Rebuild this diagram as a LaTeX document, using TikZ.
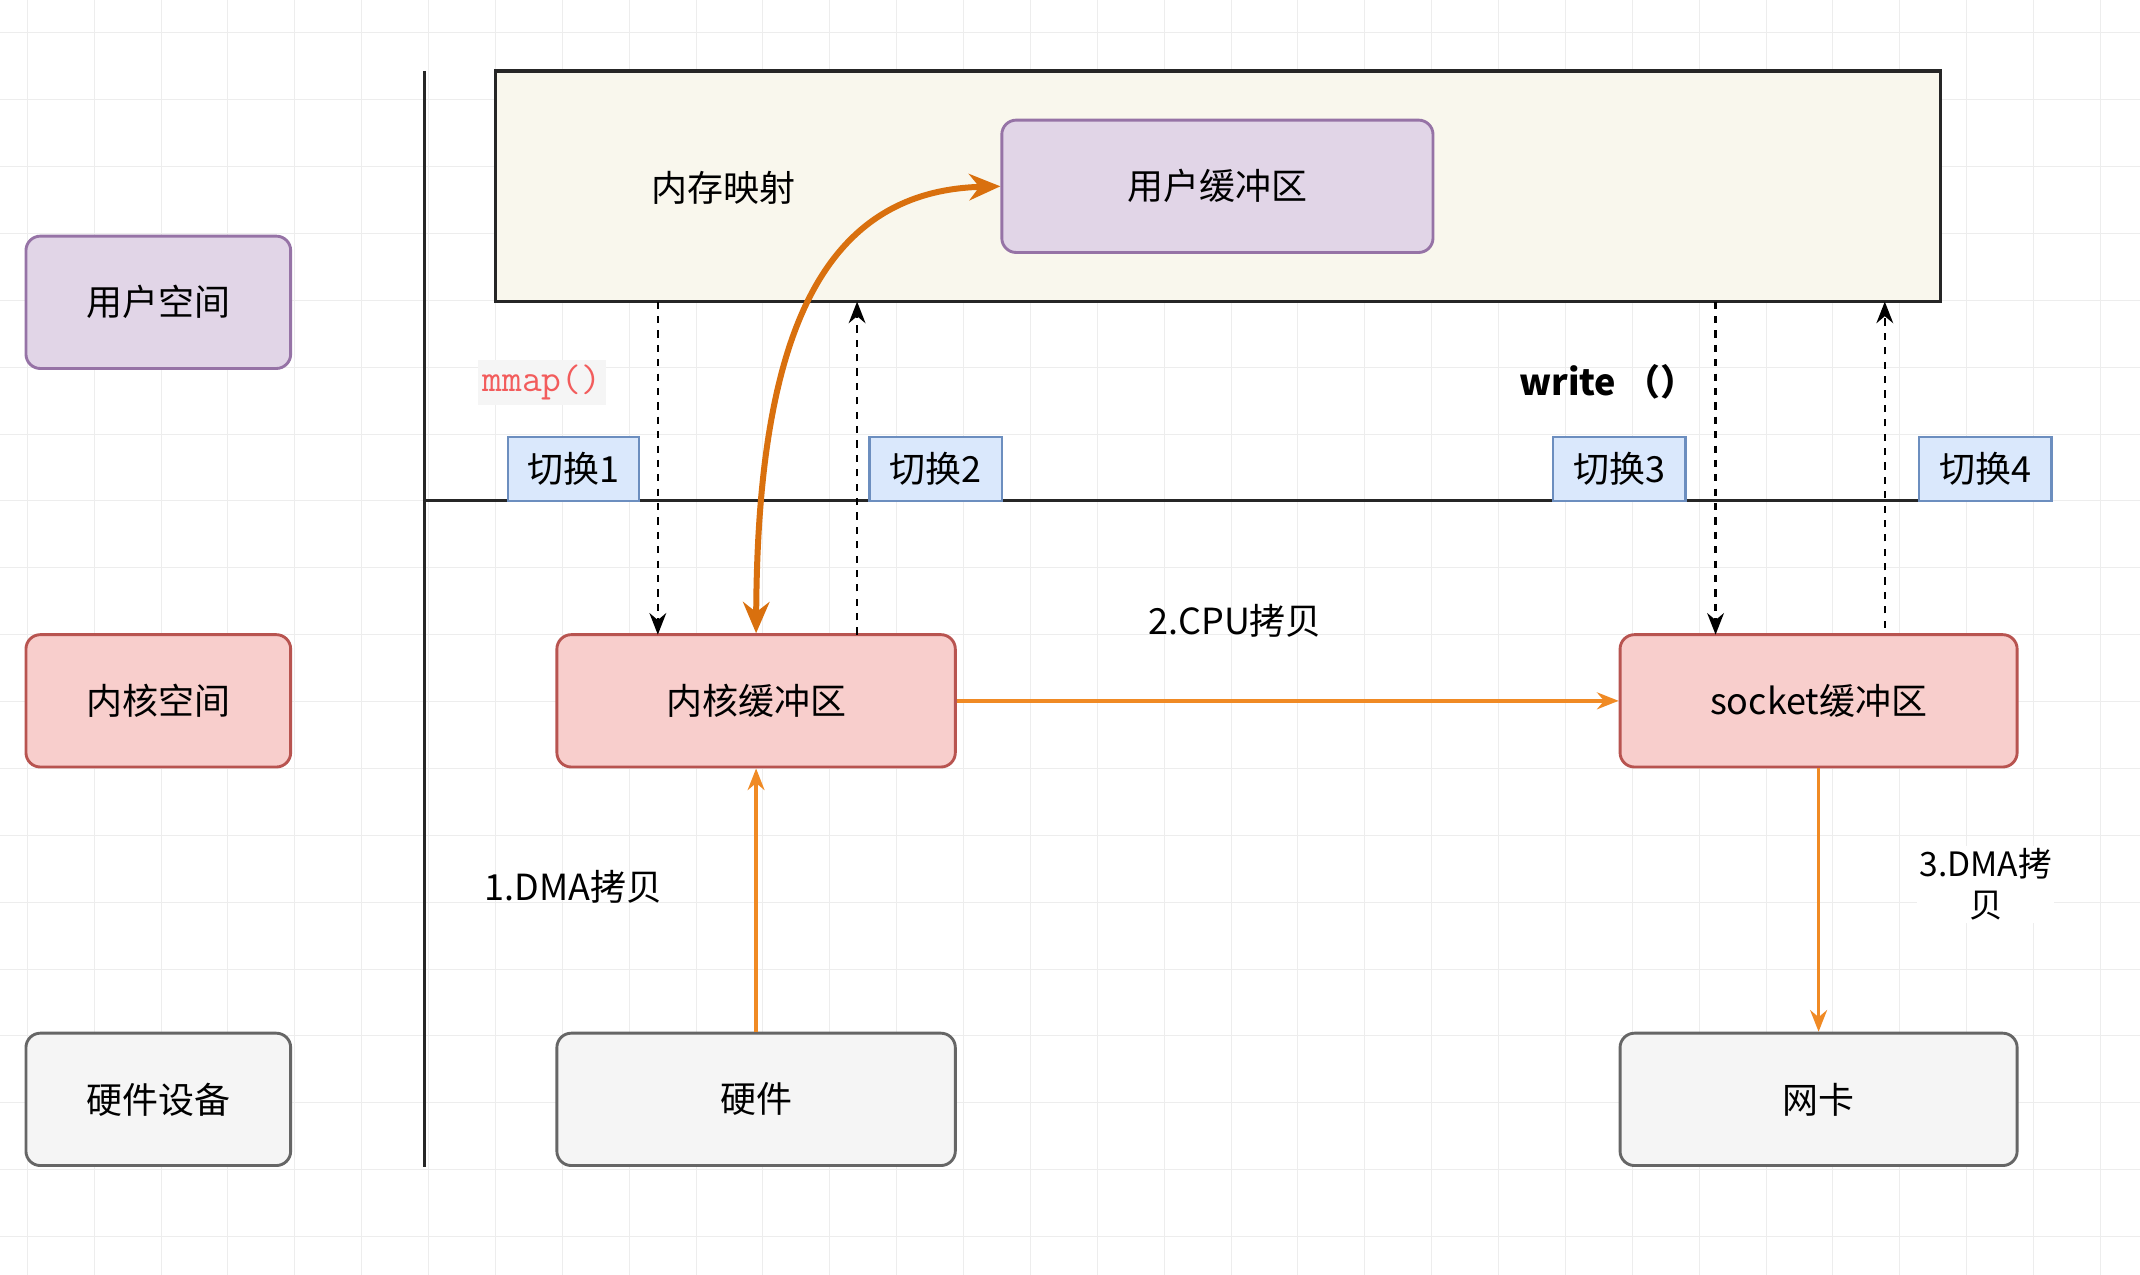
\documentclass[tikz,border=0pt]{standalone}
\usepackage{fontspec}
\setmainfont{Noto Sans CJK SC}
\usetikzlibrary{arrows.meta}
\definecolor{pf}{HTML}{E1D5E7}\definecolor{pd}{HTML}{9673A6}
\definecolor{rf}{HTML}{F8CECC}\definecolor{rd}{HTML}{B85450}
\definecolor{gf}{HTML}{F5F5F5}\definecolor{gd}{HTML}{666666}
\definecolor{bf}{HTML}{DAE8FC}\definecolor{bd}{HTML}{6C8EBF}
\definecolor{yf}{HTML}{F9F7ED}\definecolor{org}{HTML}{F08A24}\definecolor{dorg}{HTML}{D9700E}
\definecolor{mm}{HTML}{F25C5C}
\begin{document}
\begin{tikzpicture}[x=0.02cm,y=-0.02cm,
  box/.style={draw,rounded corners=6pt,line width=1.2pt,font=\fontsize{15}{18}\selectfont},
  sw/.style={draw=bd,fill=bf,line width=1pt,font=\fontsize{15}{18}\selectfont,inner sep=0pt},
  lbl/.style={font=\fontsize{15}{18}\selectfont},
  da/.style={dashed,line width=1pt,-{Stealth[length=9pt,width=7pt]}},
  oa/.style={org,line width=1.5pt,-{Stealth[length=9pt,width=7pt]}}]
\useasboundingbox (0,0) rectangle (1568,934);
\fill[white] (0,0) rectangle (1568,934);
\foreach \x in {20,69,...,1568} \draw[black!7] (\x,0) -- (\x,934);
\foreach \y in {24,73,...,934} \draw[black!7] (0,\y) -- (1568,\y);
% left labels
\node[box,fill=pf,draw=pd,minimum width=3.88cm,minimum height=1.94cm] (us) at (116,221.5) {用户空间};
\node[box,fill=rf,draw=rd,minimum width=3.88cm,minimum height=1.94cm] (ks) at (116,513.5) {内核空间};
\node[box,fill=gf,draw=gd,minimum width=3.88cm,minimum height=1.94cm] (hs) at (116,805.5) {硬件设备};
% axes
\coordinate (v1) at (311,52); \coordinate (v2) at (311,855);
\coordinate (h1) at (311,367); \coordinate (h2) at (1503,367);
\draw[line width=1.3pt,black!85] (v1) -- (v2);
\draw[line width=1.3pt,black!85] (h1) -- (h2);
% big rect
\node[draw=black!85,fill=yf,line width=1.3pt,minimum width=21.18cm,minimum height=3.38cm,inner sep=0] (big) at (892.5,136.5) {};
\node[lbl] (nm) at (530,138) {内存映射};
\node[box,fill=pf,draw=pd,minimum width=6.32cm,minimum height=1.94cm] (ub) at (892,136.5) {用户缓冲区};
% kernel / hw
\node[box,fill=rf,draw=rd,minimum width=5.84cm,minimum height=1.94cm] (kb) at (554,513.5) {内核缓冲区};
\node[box,fill=rf,draw=rd,minimum width=5.82cm,minimum height=1.94cm] (sb) at (1332.5,513.5) {socket缓冲区};
\node[box,fill=gf,draw=gd,minimum width=5.84cm,minimum height=1.94cm] (hw) at (554,805.5) {硬件};
\node[box,fill=gf,draw=gd,minimum width=5.82cm,minimum height=1.94cm] (nc) at (1332.5,805.5) {网卡};
% switches
\node[sw,minimum width=1.92cm,minimum height=0.94cm] (s1) at (420,343.5) {切换1};
\node[sw,minimum width=1.94cm,minimum height=0.94cm] (s2) at (685.5,343.5) {切换2};
\node[sw,minimum width=1.94cm,minimum height=0.94cm] (s3) at (1186.5,343.5) {切换3};
\node[sw,minimum width=1.94cm,minimum height=0.94cm] (s4) at (1454.5,343.5) {切换4};
\node[fill=black!4,text=mm,font=\ttfamily\fontsize{16}{18}\selectfont,inner sep=2pt] (mp) at (397,280) {mmap()};
\node[font=\bfseries\fontsize{15}{18}\selectfont] (wr) at (1178,280) {write （）};
% dashed arrows
\draw[da] (482,221) -- (482,465);
\draw[da] (628,465) -- (628,221);
\draw[da] (1257,221) -- (1257,465);
\draw[da] (1381,460) -- (1381,221);
% orange
\draw[dorg,line width=2.5pt,{Stealth[length=13pt,width=11pt]}-{Stealth[length=13pt,width=11pt]}] (kb.north) .. controls (555,250) and (600,140) .. (ub.west);
\draw[oa] (kb.east) -- (sb.west);
\draw[oa] (hw.north) -- (kb.south);
\draw[oa] (sb.south) -- (nc.north);
\node[lbl] (l2) at (905,455) {2.CPU拷贝};
\node[lbl] (l1) at (420,650) {1.DMA拷贝};
\node[lbl,fill=white,align=center,inner sep=1pt,font=\fontsize{14}{17}\selectfont] (l3) at (1455,648) {3.DMA拷\\贝};
\end{tikzpicture}
\end{document}
